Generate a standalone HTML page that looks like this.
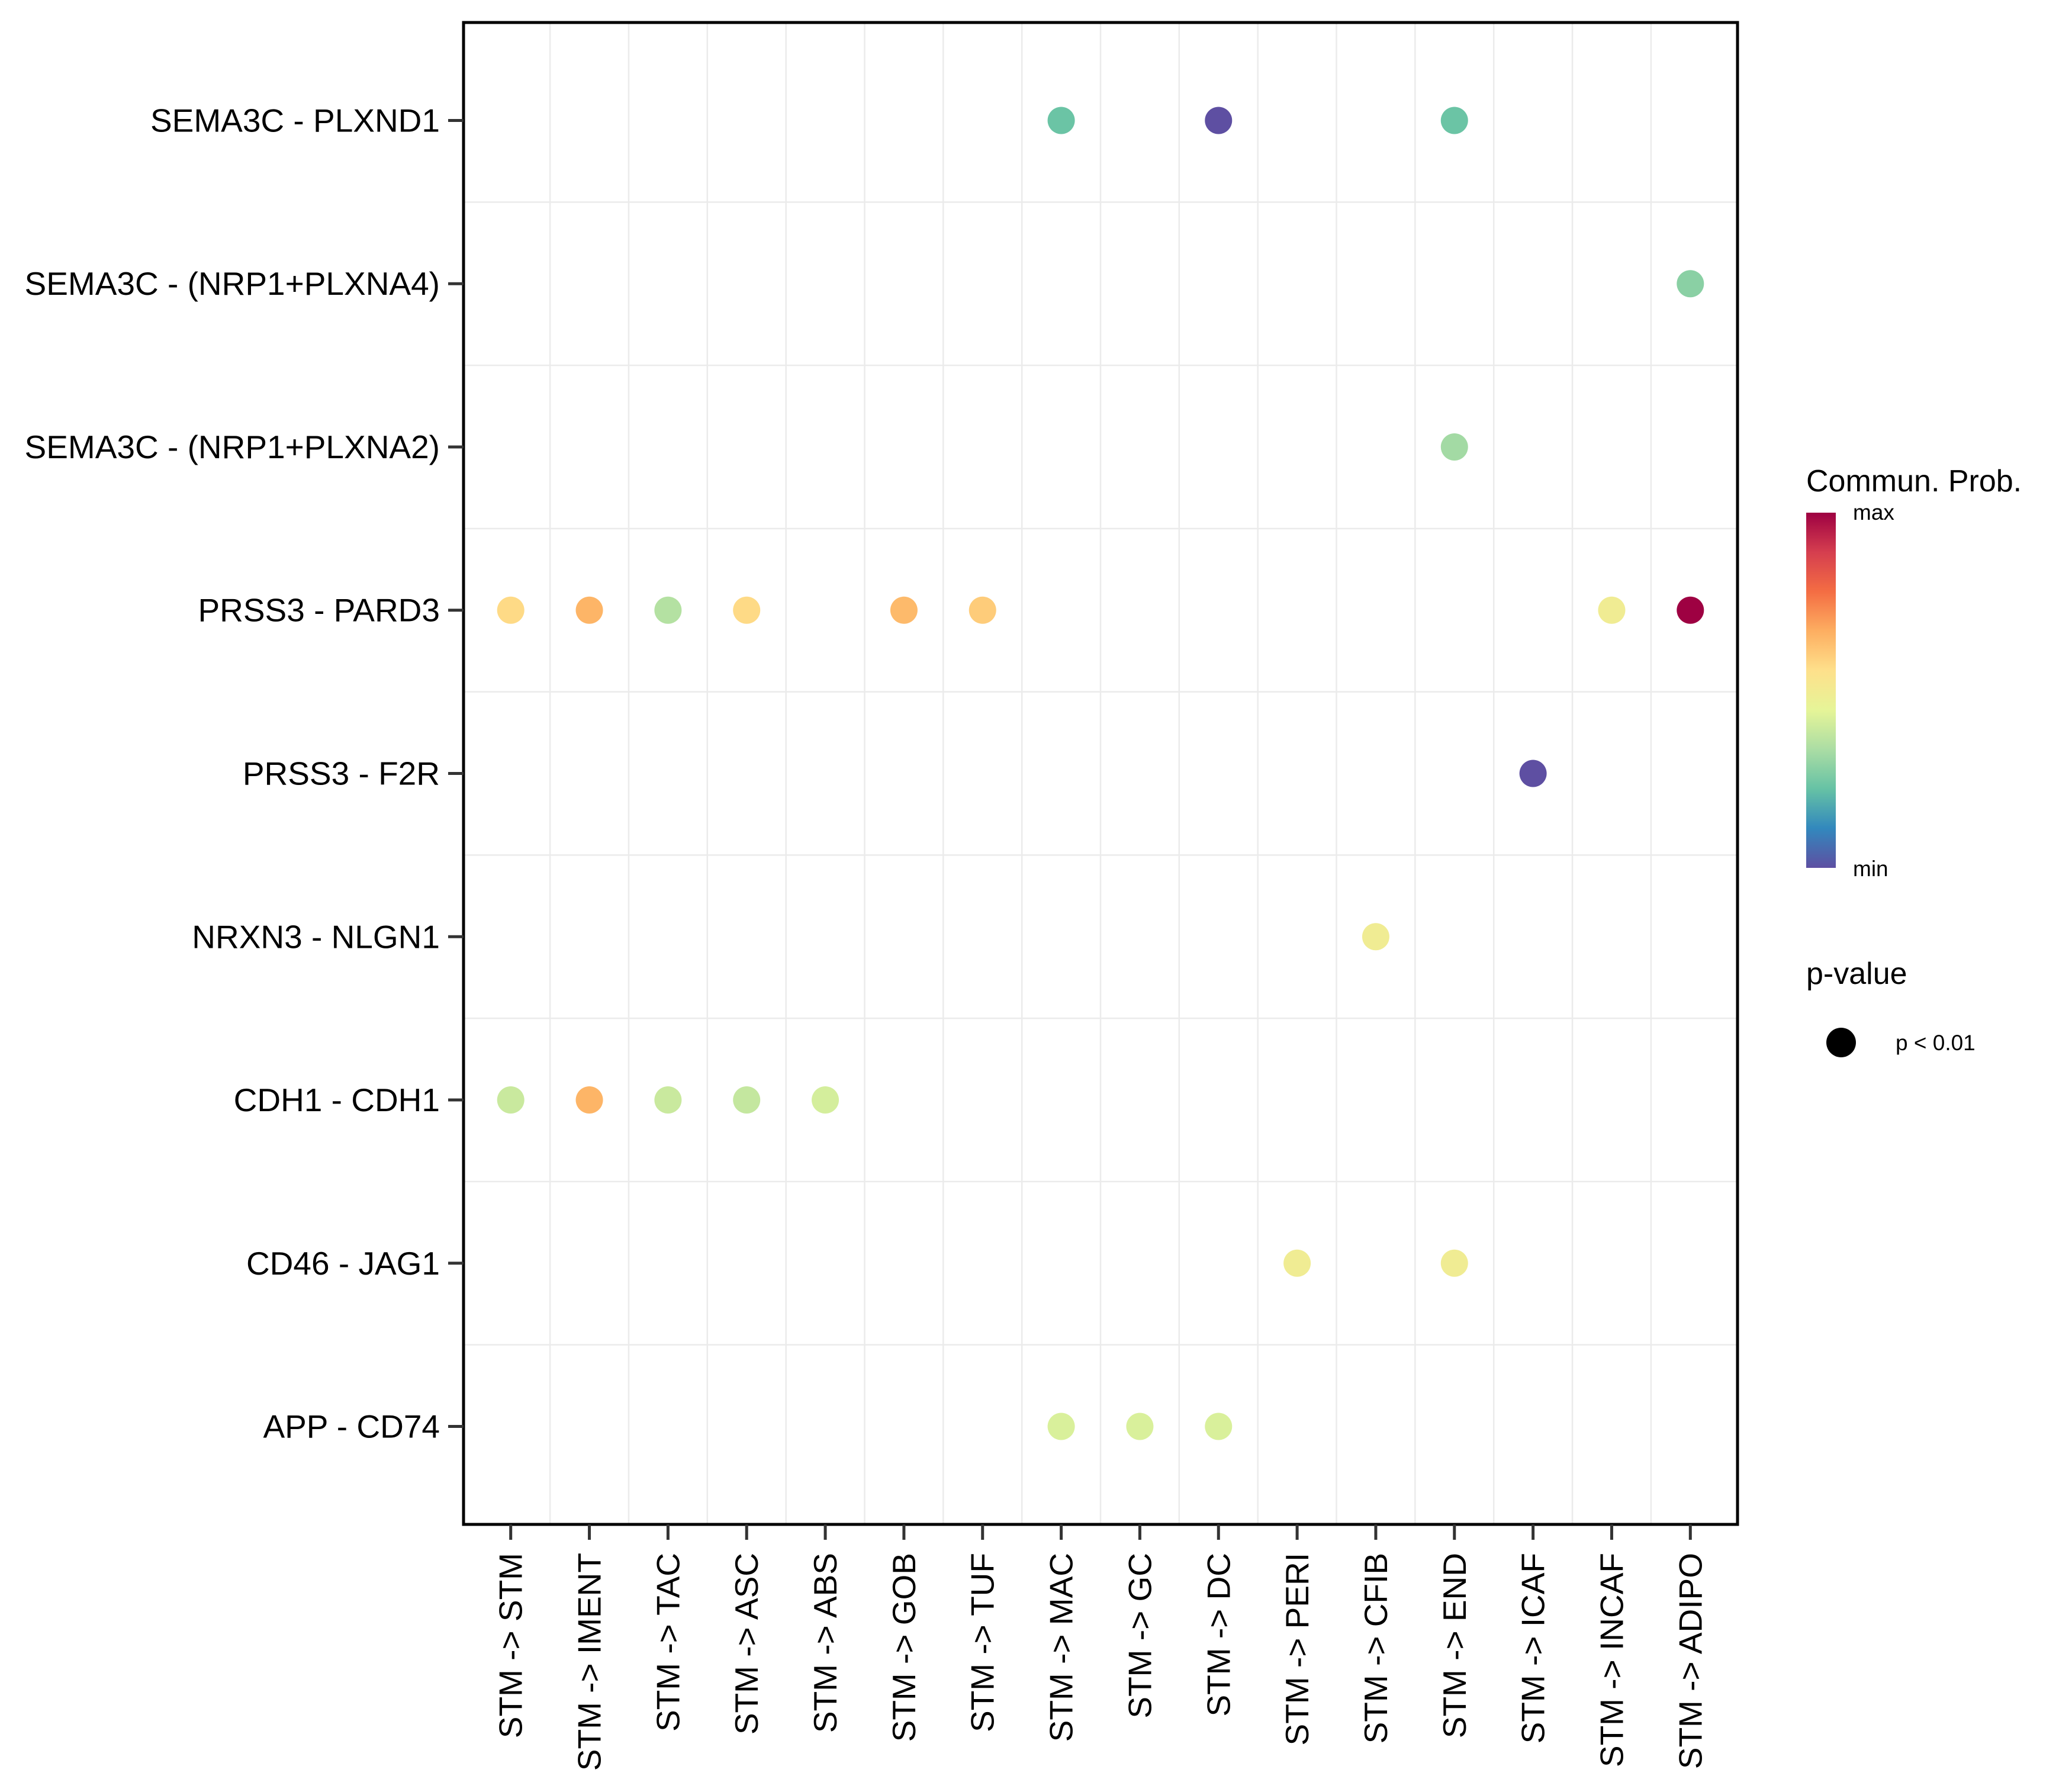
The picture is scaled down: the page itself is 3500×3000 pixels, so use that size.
<!DOCTYPE html>
<html><head><meta charset="utf-8"><style>
html,body{margin:0;padding:0;background:#fff;}
svg{display:block;font-family:"Liberation Sans",Arial,sans-serif;}
</style></head><body>
<svg id="chart" width="3500" height="3000" viewBox="0 0 3500 3000" xmlns="http://www.w3.org/2000/svg">
<defs>
<linearGradient id="spec" x1="0" y1="1" x2="0" y2="0">
<stop offset="0" stop-color="#5e4fa2"/><stop offset="0.1111" stop-color="#3288bd"/><stop offset="0.2222" stop-color="#66c2a5"/><stop offset="0.3333" stop-color="#abdda4"/><stop offset="0.4444" stop-color="#e6f598"/><stop offset="0.5556" stop-color="#fee08b"/><stop offset="0.6667" stop-color="#fdae61"/><stop offset="0.7778" stop-color="#f46d43"/><stop offset="0.8889" stop-color="#d53e4f"/><stop offset="1" stop-color="#9e0142"/>
</linearGradient>
</defs>
<g id="grid"></g>
<g id="dots"></g>
<rect x="783" y="38" width="2152" height="2537" fill="none" stroke="#000" stroke-width="5"/>
<g id="axes"></g>
<g>
<text x="3051" y="830" font-size="52">Commun. Prob.</text>
<rect x="3051" y="866" width="50" height="600" fill="url(#spec)"/>
<text x="3130" y="878" font-size="37">max</text>
<text x="3130" y="1480" font-size="37">min</text>
</g>
<g>
<text x="3051" y="1662" font-size="52">p-value</text>
<circle cx="3110" cy="1761" r="25" fill="#000"/>
<text x="3202" y="1774" font-size="37">p &lt; 0.01</text>
</g>
</svg>
<script>
const columns = ["STM -> STM","STM -> IMENT","STM -> TAC","STM -> ASC","STM -> ABS","STM -> GOB","STM -> TUF","STM -> MAC","STM -> GC","STM -> DC","STM -> PERI","STM -> CFIB","STM -> END","STM -> ICAF","STM -> INCAF","STM -> ADIPO"];
const rows = ["SEMA3C - PLXND1","SEMA3C - (NRP1+PLXNA4)","SEMA3C - (NRP1+PLXNA2)","PRSS3 - PARD3","PRSS3 - F2R","NRXN3 - NLGN1","CDH1 - CDH1","CD46 - JAG1","APP - CD74"];
const pointRow = [0,0,0,1,2,3,3,3,3,3,3,3,3,4,5,6,6,6,6,6,7,7,8,8,8];
const pointCol = [7,9,12,15,12,0,1,2,3,5,6,14,15,13,11,0,1,2,3,4,10,12,7,8,9];
const pointProb = [0.23,0.0,0.23,0.28,0.32,0.57,0.65,0.35,0.57,0.64,0.6,0.49,1.0,0.0,0.49,0.39,0.65,0.39,0.38,0.41,0.49,0.49,0.42,0.42,0.42];

const NS="http://www.w3.org/2000/svg";
const L=783,R=2935,T=38,B=2575;
const nC=columns.length,nR=rows.length;
const xs=(i)=>L+(R-L)*(i+0.6)/(nC-1+1.2);
const ys=(j)=>T+(B-T)*(j+0.6)/(nR-1+1.2);
const stops=["#5e4fa2","#3288bd","#66c2a5","#abdda4","#e6f598","#fee08b","#fdae61","#f46d43","#d53e4f","#9e0142"];
function hex(h){return [1,3,5].map(k=>parseInt(h.substr(k,2),16));}
function color(v){v=Math.max(0,Math.min(1,v));const n=stops.length-1;const p=v*n,i=Math.min(n-1,Math.floor(p)),f=p-i;const a=hex(stops[i]),b=hex(stops[i+1]);return "rgb("+a.map((c,k)=>Math.round(c+(b[k]-c)*f)).join(",")+")";}
function mk(tag,attrs,parent){const e=document.createElementNS(NS,tag);for(const k in attrs)e.setAttribute(k,attrs[k]);parent.appendChild(e);return e;}
const grid=document.getElementById('grid'),dots=document.getElementById('dots'),axes=document.getElementById('axes');
for(let i=0;i<nC-1;i++){const x=(xs(i)+xs(i+1))/2;const ln=mk('line',{x1:x,x2:x,y1:T,y2:B,stroke:'#ebebeb','stroke-width':2.5},grid);

}
for(let j=0;j<nR-1;j++){const y=(ys(j)+ys(j+1))/2;const ln=mk('line',{x1:L,x2:R,y1:y,y2:y,stroke:'#ebebeb','stroke-width':2.5},grid);

}
columns.forEach((c,i)=>{const x=xs(i);
const t=mk('line',{x1:x,x2:x,y1:B,y2:B+26,stroke:'#333','stroke-width':5},axes);


const tx=mk('text',{x:0,y:0,'font-size':55,'text-anchor':'end',transform:'translate('+(x+19)+','+(B+48)+') rotate(-90)'},axes);tx.textContent=c;

});
rows.forEach((r,j)=>{const y=ys(j);
const t=mk('line',{x1:L-26,x2:L,y1:y,y2:y,stroke:'#333','stroke-width':5},axes);


const tx=mk('text',{x:L-40,y:y+19,'font-size':55,'text-anchor':'end'},axes);tx.textContent=r;

});
pointProb.forEach((v,k)=>{const c=mk('circle',{cx:xs(pointCol[k]),cy:ys(pointRow[k]),r:23,fill:color(v)},dots);

});
</script>
</body></html>
